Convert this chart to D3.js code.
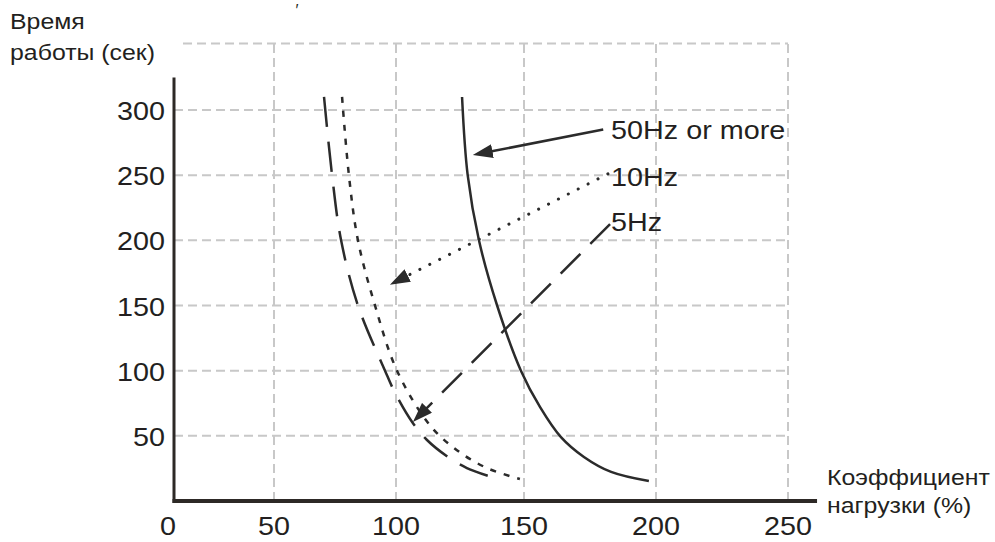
<!DOCTYPE html>
<html>
<head>
<meta charset="utf-8">
<script src="https://cdn.jsdelivr.net/npm/d3@7"></script>
<style>
  body { margin: 0; background: #fff; }
  svg { display: block; font-family: "Liberation Sans", Arial, sans-serif; }
</style>
</head>
<body>
<div id="chart"></div>
<script>
// tick values
const xTicks = [0, 50, 100, 150, 200, 250];
const yTicks = [50, 100, 150, 200, 250, 300];

// curves: [load %, seconds]
const curve50 = [[125.8, 310], [128, 250], [132.4, 200], [139.5, 150], [148.8, 100],
                 [156.1, 72], [164, 49], [172.7, 33.8], [183, 22.3], [197.3, 15.3]];
const curve10 = [[77.9, 310], [80.7, 250], [84.4, 200], [91.4, 150], [100.4, 100], [113.3, 58],
                 [123.8, 39], [135.5, 25.3], [148.4, 16.9]];
const curve5 = [[70.5, 310], [73.8, 250], [77.5, 200], [84.4, 150], [95.5, 100], [99.6, 83],
                [106.3, 60.6], [112, 47], [120.3, 33.8], [127.7, 25.3], [138.7, 17.6]];

// legend labels with arrow [from, to] in data units
const labels = ["50Hz or more", "10Hz", "5Hz"];
const arrowFrom = [[180, 285], [181.8, 251], [182.6, 212.5]];
const arrowTo = [[130, 265.5], [97.5, 166], [106.6, 60.6]];
const labelAt = [[183, 278], [183, 242], [183, 207]];

const width = 995, height = 542;
const ink = "#231f20";

const svg = d3.select("#chart").append("svg")
    .attr("width", width)
    .attr("height", height);

// the scanned chart has uneven x spacing, so piecewise scale
const x = d3.scaleLinear()
    .domain(xTicks)
    .range([174, 274, 396, 524, 656, 788]);
const y = d3.scaleLinear()
    .domain([0, 300])
    .range([501, 110]);

// stretched text helper
function stretchText(g, str, px, py, size, anchor, sx) {
    return g.append("text")
        .attr("transform", `translate(${px},${py}) scale(${sx},1)`)
        .attr("text-anchor", anchor)
        .attr("font-size", size)
        .attr("fill", ink)
        .text(str);
}

// grid
const grid = svg.append("g")
    .attr("stroke", "#c8c8c8")
    .attr("stroke-width", 2)
    .attr("stroke-dasharray", "9 5")
    .attr("fill", "none");

grid.selectAll(".h").data(yTicks).join("line")
    .attr("x1", x(0)).attr("x2", x(250))
    .attr("y1", d => y(d)).attr("y2", d => y(d));

grid.append("line")
    .attr("x1", x(4.5)).attr("x2", x(250))
    .attr("y1", y(351)).attr("y2", y(351));

grid.selectAll(".v").data(xTicks.slice(1)).join("line")
    .attr("x1", d => x(d)).attr("x2", d => x(d))
    .attr("y1", y(0)).attr("y2", y(351));

// curves
const line = d3.line()
    .x(d => x(d[0]))
    .y(d => y(d[1]))
    .curve(d3.curveCatmullRom);

const curves = svg.append("g")
    .attr("fill", "none")
    .attr("stroke", "#2b2b2b")
    .attr("stroke-width", 2.5);

curves.append("path").attr("d", line(curve50));
curves.append("path").attr("d", line(curve10)).attr("stroke-dasharray", "6 8");
curves.append("path").attr("d", line(curve5)).attr("stroke-dasharray", "30 15");

// arrows
svg.append("defs").append("marker")
    .attr("id", "head")
    .attr("viewBox", "0 0 20 14")
    .attr("refX", 6)
    .attr("refY", 7)
    .attr("markerWidth", 20)
    .attr("markerHeight", 14)
    .attr("markerUnits", "userSpaceOnUse")
    .attr("orient", "auto")
    .append("path")
    .attr("d", "M0,0 L20,7 L0,14 Z")
    .attr("fill", "#2b2b2b");

const arrowDash = [null, "0.1 11", "28 14"];
const arrowWidth = [2.5, 3, 2.5];
labels.forEach((lab, i) => {
    const x1 = x(arrowFrom[i][0]), y1 = y(arrowFrom[i][1]);
    const x2 = x(arrowTo[i][0]), y2 = y(arrowTo[i][1]);
    const len = Math.hypot(x2 - x1, y2 - y1);
    const k = (len - 14) / len;
    svg.append("line")
        .attr("x1", x1).attr("y1", y1)
        .attr("x2", x1 + (x2 - x1) * k).attr("y2", y1 + (y2 - y1) * k)
        .attr("stroke", "#2b2b2b")
        .attr("stroke-width", arrowWidth[i])
        .attr("stroke-linecap", i === 1 ? "round" : "butt")
        .attr("stroke-dasharray", arrowDash[i])
        .attr("marker-end", "url(#head)");
    stretchText(svg, lab, x(labelAt[i][0]), y(labelAt[i][1]), 25, "start", 1.15);
});

// axes
svg.append("line")
    .attr("x1", x(0)).attr("x2", x(0))
    .attr("y1", y(0) + 2).attr("y2", y(325))
    .attr("stroke", "#2d2926").attr("stroke-width", 3);
svg.append("line")
    .attr("x1", x(0) - 1.5).attr("x2", x(261))
    .attr("y1", y(0)).attr("y2", y(0))
    .attr("stroke", "#2d2926").attr("stroke-width", 4);

// tick labels
const tickG = svg.append("g");
xTicks.forEach(t => stretchText(tickG, t, x(t) - (t === 0 ? 6 : 0), 535, 25, "middle", 1.15));
yTicks.forEach(t => stretchText(tickG, t, 165, y(t) + 10, 25, "end", 1.15));

// axis titles
stretchText(svg, "Время", 10, 29, 22, "start", 1.13);
stretchText(svg, "работы (сек)", 10, 60, 22, "start", 1.13);
stretchText(svg, "Коэффициент", 827, 485, 22, "start", 1.13);
stretchText(svg, "нагрузки (%)", 827, 513, 22, "start", 1.13);
stretchText(svg, "′", 297, 16, 16, "middle", 1);
</script>
</body>
</html>
